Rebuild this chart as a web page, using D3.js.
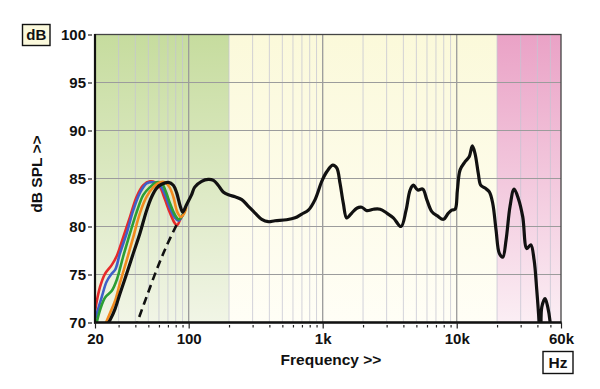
<!DOCTYPE html>
<html>
<head>
<meta charset="utf-8">
<script src="https://cdn.jsdelivr.net/npm/d3@7"></script>
<style>
  body { margin: 0; background: #fff; }
  svg text { font-family: "Liberation Sans", Arial, sans-serif; font-weight: bold; fill: #111; }
</style>
</head>
<body>
<div id="chart"></div>
<script>
// size
var chart_width = 600;
var chart_height = 389;

// ticks
var dbTicks = [70, 75, 80, 85, 90, 95, 100];
var freqLabelTicks = [20, 100, 1000, 10000, 60000];
var freqLabels = ["20", "100", "1k", "10k", "60k"];
var freqGrid = [30, 40, 50, 60, 70, 80, 90, 100, 200, 300, 400, 500, 600, 700, 800, 900,
                1000, 2000, 3000, 4000, 5000, 6000, 7000, 8000, 9000,
                10000, 20000, 30000, 40000, 50000];
var freqMajor = [100, 1000, 10000];

// coloured bands (Hz)
var bandEdges = [20, 200, 20000, 60000];

// responses [Hz, dB]
var redCurve = [[20, 71.2], [21.8, 73.7], [23.8, 75.1], [26.7, 76.0], [29, 76.9], [32.5, 78.9],
  [36.5, 81.0], [40.9, 83.1], [45.9, 84.3], [51.5, 84.7], [56.1, 84.6], [61.1, 84.1],
  [66.6, 82.8], [72.6, 81.4], [79.1, 80.3], [82.3, 80.15], [86.2, 80.7], [91.2, 81.3], [95, 81.9]];

var blueCurve = [[20, 70.3], [22.5, 72.7], [24.4, 74.25], [26.7, 75.1], [28.3, 75.5], [30.7, 77.2],
  [34.5, 79.3], [38.6, 81.7], [43.3, 83.5], [48.6, 84.5], [54.6, 84.6], [61.1, 84.3],
  [66.6, 83.3], [72.6, 81.9], [79.1, 80.9], [83.8, 80.6], [88.6, 81.0], [95, 81.9]];

var greenCurve = [[20.3, 69.6], [21.8, 71.3], [23.8, 72.6], [26.7, 73.3], [29, 74.4], [32.5, 76.9],
  [36.5, 79.3], [40.9, 81.5], [45.9, 83.3], [51.5, 84.1], [57.7, 84.6], [62.9, 84.5],
  [67.7, 83.6], [72.6, 82.4], [79.1, 81.2], [84.2, 80.75], [90.2, 81.2], [95, 81.9]];

var orangeCurve = [[23.5, 69.6], [25.9, 71.0], [28.3, 72.3], [30.7, 74.1], [34.5, 76.5], [38.6, 78.9],
  [43.3, 81.4], [48.6, 83.1], [54.6, 84.1], [61.1, 84.6], [66.6, 84.6], [71.9, 84.1],
  [76.8, 83.1], [82.3, 81.5], [87.4, 81.0], [92.8, 81.4], [96, 82.0]];

var blackCurve = [[24, 69.5], [26, 70.3], [28.2, 71.4], [30.7, 73.0], [34.5, 75.1], [38.6, 77.2],
  [43.3, 79.3], [48.6, 81.7], [53, 83.1], [57.7, 84.0], [62.9, 84.4], [70.5, 84.6],
  [76.8, 84.3], [81.4, 83.5], [86.2, 82.2], [90.2, 81.5], [96.6, 82.3], [105, 83.3],
  [111, 84.1], [125, 84.7], [140, 84.9], [153, 84.8], [166, 84.3], [181, 83.6],
  [198, 83.3], [222, 83.1], [249, 82.8], [279, 82.1], [313, 81.4], [351, 80.75],
  [393, 80.5], [441, 80.6], [538, 80.7], [622, 80.9], [698, 81.3], [782, 81.7],
  [877, 82.8], [984, 84.7], [1072, 85.7], [1188, 86.4], [1273, 86.1], [1347, 84.5],
  [1426, 82.4], [1511, 80.9], [1648, 81.4], [1796, 81.9], [1955, 82.0], [2133, 81.65],
  [2390, 81.8], [2680, 81.8], [3006, 81.4], [3366, 80.9], [3843, 80.0], [4190, 81.7],
  [4490, 83.8], [4750, 84.3], [5120, 83.8], [5580, 83.9], [5980, 82.8], [6520, 81.55],
  [7180, 81.1], [7960, 80.75], [8670, 81.4], [9180, 81.7], [9730, 81.8], [10120, 83.8],
  [10600, 85.9], [11550, 86.75], [12420, 87.3], [13080, 88.4], [13700, 87.6], [14500, 85.5],
  [15100, 84.3], [16260, 84.0], [17520, 83.6], [18570, 82.4], [19670, 79.6], [20800, 77.2],
  [22060, 76.8], [23350, 78.6], [25000, 82.1], [26800, 83.9], [28850, 82.9], [31100, 81.0],
  [33340, 77.7], [35700, 78.1], [37800, 76.5], [39560, 73.4], [41150, 70.1], [41900, 67.5],
  [42500, 68.5], [43130, 71.6], [45650, 72.5], [47790, 71.6], [49720, 70.1], [51000, 67.5]];

var dashedCurve = [[40, 69.3], [42.1, 70.3], [48.6, 72.7], [57.7, 75.5], [68, 77.9], [81.4, 80.2]];

var colorCurves = [
  {data: redCurve, color: "#e62a2a"},
  {data: blueCurve, color: "#3f5fc8"},
  {data: greenCurve, color: "#2c9e34"},
  {data: orangeCurve, color: "#f28a1e"}
];

// scales
var x = d3.scaleLog().domain([20, 60000]).range([95, 561]);
var y = d3.scaleLinear().domain([70, 100]).range([322.5, 34.5]);

var svg = d3.select('#chart')
            .append("svg")
            .attr('width', chart_width)
            .attr('height', chart_height);

var defs = svg.append("defs");

function vgrad(id, top, bottom){
    var g = defs.append("linearGradient").attr("id", id)
                .attr("x1", 0).attr("y1", 0).attr("x2", 0).attr("y2", 1);
    g.append("stop").attr("offset", "0%").attr("stop-color", top);
    g.append("stop").attr("offset", "100%").attr("stop-color", bottom);
}
vgrad("gGreen", "#c6dc9e", "#f1f5e6");
vgrad("gCream", "#fbf9da", "#fffef6");
vgrad("gPink", "#eaa2c6", "#fbeef4");

defs.append("clipPath").attr("id", "plotclip")
    .append("rect")
    .attr("x", x(20)).attr("y", y(100))
    .attr("width", x(60000) - x(20)).attr("height", y(70) - y(100));

// bands
var bandFills = ["url(#gGreen)", "url(#gCream)", "url(#gPink)"];
svg.selectAll('rect.band')
   .data(bandFills)
   .enter()
   .append('rect')
   .attr('class', 'band')
   .attr('x', function(d, i){ return x(bandEdges[i]); })
   .attr('y', y(100))
   .attr('width', function(d, i){ return x(bandEdges[i + 1]) - x(bandEdges[i]); })
   .attr('height', y(70) - y(100))
   .attr('fill', function(d){ return d; });

// grid
svg.selectAll('line.vgrid')
   .data(freqGrid)
   .enter()
   .append('line')
   .attr('x1', function(d){ return x(d); })
   .attr('x2', function(d){ return x(d); })
   .attr('y1', y(100)).attr('y2', y(70))
   .attr('stroke', function(d){ return freqMajor.indexOf(d) >= 0 ? "#9a9a9a" : "#c4c4d2"; })
   .attr('stroke-opacity', function(d){ return freqMajor.indexOf(d) >= 0 ? 1 : 0.75; })
   .attr('stroke-width', function(d){ return freqMajor.indexOf(d) >= 0 ? 1.3 : 1; });

svg.selectAll('line.hgrid')
   .data(dbTicks.slice(1, -1))
   .enter()
   .append('line')
   .attr('x1', x(20)).attr('x2', x(60000))
   .attr('y1', function(d){ return y(d); })
   .attr('y2', function(d){ return y(d); })
   .attr('stroke', '#9c9c9c')
   .attr('stroke-width', 1);

// curves
var line = d3.line()
             .x(function(d){ return x(d[0]); })
             .y(function(d){ return y(d[1]); })
             .curve(d3.curveCatmullRom);

var plot = svg.append('g').attr('clip-path', 'url(#plotclip)');

plot.selectAll('path.col')
    .data(colorCurves)
    .enter()
    .append('path')
    .attr('d', function(d){ return line(d.data); })
    .attr('fill', 'none')
    .attr('stroke', function(d){ return d.color; })
    .attr('stroke-width', 2.6)
    .attr('stroke-linejoin', 'round');

plot.append('path')
    .attr('d', line(dashedCurve))
    .attr('fill', 'none')
    .attr('stroke', '#111')
    .attr('stroke-width', 2.6)
    .attr('stroke-dasharray', '8,5');

plot.append('path')
    .attr('d', line(blackCurve))
    .attr('fill', 'none')
    .attr('stroke', '#111')
    .attr('stroke-width', 3.2)
    .attr('stroke-linejoin', 'round');

// frame
svg.append('rect')
   .attr('x', x(20)).attr('y', y(100))
   .attr('width', x(60000) - x(20)).attr('height', y(70) - y(100))
   .attr('fill', 'none')
   .attr('stroke', '#444')
   .attr('stroke-width', 1.3);
svg.append('line')
   .attr('x1', x(20)).attr('x2', x(20)).attr('y1', y(100) - 0.5).attr('y2', y(70) + 1)
   .attr('stroke', '#111').attr('stroke-width', 2.2);
svg.append('line')
   .attr('x1', x(20) - 1).attr('x2', x(60000) + 0.5).attr('y1', y(70)).attr('y2', y(70))
   .attr('stroke', '#111').attr('stroke-width', 2.6);

// y axis
var yAxis = svg.append('g')
   .attr('transform', 'translate(' + (x(20) - 3) + ',0)')
   .call(d3.axisLeft(y).tickValues(dbTicks).tickSize(4).tickPadding(2));
yAxis.select('.domain').remove();
yAxis.selectAll('line').attr('stroke', '#222').attr('stroke-width', 1.2);
yAxis.selectAll('text').style('font-size', '15px').attr('fill', '#111').attr('dy', '0.36em');

// x axis minor ticks
var xMinor = svg.append('g')
   .attr('transform', 'translate(0,' + (y(70) + 2.5) + ')')
   .call(d3.axisBottom(x).tickValues(freqGrid.filter(function(d){ return freqMajor.indexOf(d) < 0; }))
                         .tickSize(2.5).tickFormat(''));
xMinor.select('.domain').remove();
xMinor.selectAll('line').attr('stroke', '#222').attr('stroke-width', 1.2);

var xAxis = svg.append('g')
   .attr('transform', 'translate(0,' + y(70) + ')')
   .call(d3.axisBottom(x).tickValues(freqLabelTicks).tickSize(6).tickPadding(5)
                         .tickFormat(function(d, i){ return freqLabels[i]; }));
xAxis.select('.domain').remove();
xAxis.selectAll('line').attr('stroke', '#222').attr('stroke-width', 1.2);
xAxis.selectAll('text').style('font-size', '15px').attr('fill', '#111');

// titles
svg.append('text')
   .attr('x', 331).attr('y', 365)
   .attr('text-anchor', 'middle')
   .style('font-size', '15.5px')
   .text('Frequency >>');

svg.append('text')
   .attr('transform', 'translate(41.5,174) rotate(-90)')
   .attr('text-anchor', 'middle')
   .style('font-size', '15.5px')
   .text('dB SPL >>');

// unit boxes
svg.append('rect')
   .attr('x', 22.5).attr('y', 24.5).attr('width', 27.5).attr('height', 21)
   .attr('fill', '#fbf9dc').attr('stroke', '#111').attr('stroke-width', 1.4);
svg.append('text')
   .attr('x', 36.3).attr('y', 40.3).attr('text-anchor', 'middle')
   .style('font-size', '15px').text('dB');

svg.append('rect')
   .attr('x', 543).attr('y', 351.5).attr('width', 30).attr('height', 22)
   .attr('fill', '#fff').attr('stroke', '#111').attr('stroke-width', 1.4);
svg.append('text')
   .attr('x', 558).attr('y', 368).attr('text-anchor', 'middle')
   .style('font-size', '15.5px').text('Hz');
</script>
</body>
</html>
